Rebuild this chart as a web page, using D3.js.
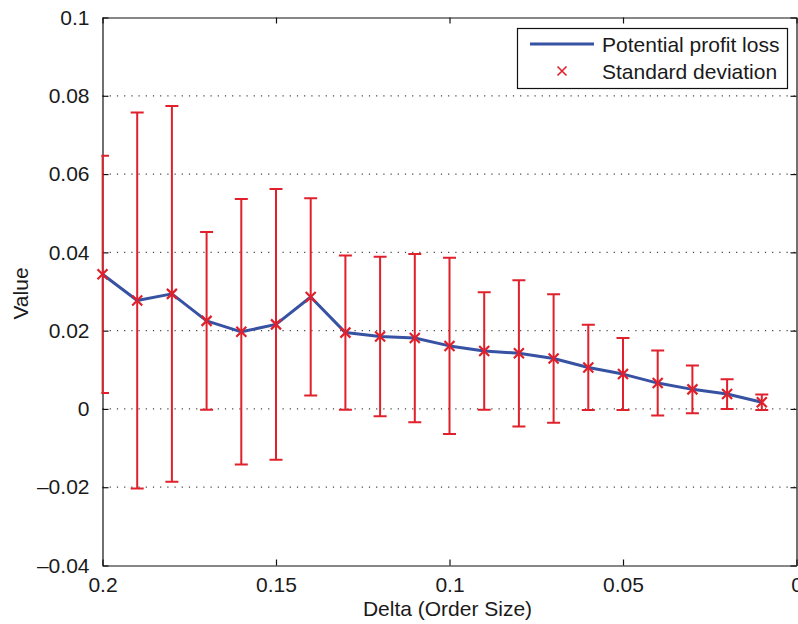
<!DOCTYPE html>
<html>
<head>
<meta charset="utf-8">
<script src="https://cdn.jsdelivr.net/npm/d3@7"></script>
<style>
  body { margin: 0; background: #fff; }
  text { font-family: "Liberation Sans", Arial, Helvetica, sans-serif; fill: #1a1a1a; }
</style>
</head>
<body>
<div id="chart"></div>
<script>
// order size (delta) of each point
const deltas = [0.20, 0.19, 0.18, 0.17, 0.16, 0.15, 0.14, 0.13, 0.12, 0.11,
                0.10, 0.09, 0.08, 0.07, 0.06, 0.05, 0.04, 0.03, 0.02, 0.01];
// potential profit loss (mean)
const profitLoss = [0.0344, 0.0277, 0.0294, 0.0225, 0.0197, 0.0216, 0.0286, 0.0195, 0.0185, 0.0181,
                    0.0161, 0.0148, 0.0142, 0.0129, 0.0106, 0.0089, 0.0066, 0.0050, 0.0038, 0.0017];
// standard deviation (half length of error bar)
const stdDev = [0.0303, 0.0480, 0.0480, 0.0227, 0.0339, 0.0346, 0.0252, 0.0197, 0.0204, 0.0215,
                0.0225, 0.0150, 0.0187, 0.0164, 0.0109, 0.0092, 0.0083, 0.0061, 0.0038, 0.0020];

const xTicks = [0.2, 0.15, 0.1, 0.05, 0];
const yTicks = [-0.04, -0.02, 0, 0.02, 0.04, 0.06, 0.08, 0.1];
const legendLabels = ["Potential profit loss", "Standard deviation"];

const data = deltas.map((d, i) => ({ x: d, y: profitLoss[i], sd: stdDev[i] }));

const W = 798, H = 624;
const margin = { top: 17.5, right: 1.5, bottom: 58.5, left: 102.5 };
const width = W - margin.left - margin.right,
      height = H - margin.top - margin.bottom;

const blue = "#3752a3", red = "#e0202b";

const x = d3.scaleLinear().domain([0.2, 0]).range([0, width]);
const y = d3.scaleLinear().domain([-0.04, 0.1]).range([height, 0]);

const fmt = v => (v < 0 ? "\u2013" : "") + d3.format("~g")(Math.abs(v));

const svg = d3.select("#chart").append("svg")
  .attr("width", W).attr("height", H);

const g = svg.append("g")
  .attr("transform", "translate(" + margin.left + "," + margin.top + ")");

// clip a bit wider than the box so the bar on the edge stays whole
svg.append("defs").append("clipPath").attr("id", "plotclip")
  .append("rect").attr("x", -1.2).attr("width", width + 2.4).attr("height", height);

// dotted horizontal grid
g.append("g").selectAll("line")
  .data(yTicks.filter(t => t > -0.04 && t < 0.1))
  .enter().append("line")
  .attr("x1", 0).attr("x2", width)
  .attr("y1", d => y(d)).attr("y2", d => y(d))
  .attr("stroke", "#444").attr("stroke-width", 1.2)
  .attr("stroke-dasharray", "1.2,6");

// axes (matlab style box, inward ticks)
const tickLen = 6;
const bottomAxis = d3.axisBottom(x).tickValues(xTicks).tickFormat(fmt).tickSizeInner(-tickLen).tickSizeOuter(0).tickPadding(12);
const topAxis = d3.axisTop(x).tickValues(xTicks).tickFormat("").tickSizeInner(-tickLen).tickSizeOuter(0);
const leftAxis = d3.axisLeft(y).tickValues(yTicks).tickFormat(fmt).tickSizeInner(-tickLen).tickSizeOuter(0).tickPadding(13);
const rightAxis = d3.axisRight(y).tickValues(yTicks).tickFormat("").tickSizeInner(-tickLen).tickSizeOuter(0);

function styleAxis(sel) {
  sel.selectAll("path, line").attr("stroke", "#111").attr("stroke-width", 1.2);
  sel.selectAll("text").style("font-size", "21px").attr("fill", "#1a1a1a");
}

g.append("g").attr("transform", "translate(0," + height + ")").call(bottomAxis).call(styleAxis);
g.append("g").call(topAxis).call(styleAxis);
g.append("g").call(leftAxis).call(styleAxis);
g.append("g").attr("transform", "translate(" + width + ",0)").call(rightAxis).call(styleAxis);

// error bars
const capW = 6.5;
const eb = g.append("g").attr("clip-path", "url(#plotclip)")
  .attr("stroke", red).attr("stroke-width", 2).attr("fill", "none");
eb.selectAll(".ebar").data(data).enter().append("path")
  .attr("class", "ebar")
  .attr("d", d => {
    const cx = x(d.x), top = y(d.y + d.sd), bot = y(d.y - d.sd);
    return "M" + cx + "," + top + "V" + bot +
      "M" + (cx - capW) + "," + top + "H" + (cx + capW) +
      "M" + (cx - capW) + "," + bot + "H" + (cx + capW);
  });

// mean line
const line = d3.line().x(d => x(d.x)).y(d => y(d.y));
g.append("path").datum(data)
  .attr("d", line)
  .attr("fill", "none").attr("stroke", blue).attr("stroke-width", 3)
  .attr("stroke-linejoin", "round");

// x markers
const mk = 5;
const cross = "M" + (-mk) + "," + (-mk) + "L" + mk + "," + mk + "M" + (-mk) + "," + mk + "L" + mk + "," + (-mk);
g.append("g").selectAll(".mk").data(data).enter().append("path")
  .attr("class", "mk")
  .attr("transform", d => "translate(" + x(d.x) + "," + y(d.y) + ")")
  .attr("d", cross)
  .attr("stroke", red).attr("stroke-width", 2.2).attr("fill", "none");

// axis labels
svg.append("text")
  .attr("x", margin.left + width / 2 - 2).attr("y", 616)
  .attr("text-anchor", "middle").style("font-size", "21px")
  .text("Delta (Order Size)");

svg.append("text")
  .attr("transform", "translate(28," + (margin.top + height / 2 + 2) + ") rotate(-90)")
  .attr("text-anchor", "middle").style("font-size", "21px")
  .text("Value");

// legend
const lg = svg.append("g");
lg.append("rect")
  .attr("x", 517.5).attr("y", 28.5).attr("width", 270).attr("height", 60)
  .attr("fill", "#fff").attr("stroke", "#111").attr("stroke-width", 1.2);
lg.append("line")
  .attr("x1", 530).attr("x2", 594).attr("y1", 44).attr("y2", 44)
  .attr("stroke", blue).attr("stroke-width", 3);
lg.append("path")
  .attr("transform", "translate(562,71)")
  .attr("d", "M-4.5,-4.5L4.5,4.5M-4.5,4.5L4.5,-4.5")
  .attr("stroke", red).attr("stroke-width", 1.6).attr("fill", "none");
lg.selectAll(".lt").data(legendLabels).enter().append("text")
  .attr("class", "lt")
  .attr("x", 602).attr("y", (d, i) => 51.5 + i * 27)
  .style("font-size", "21px")
  .text(d => d);
</script>
</body>
</html>
